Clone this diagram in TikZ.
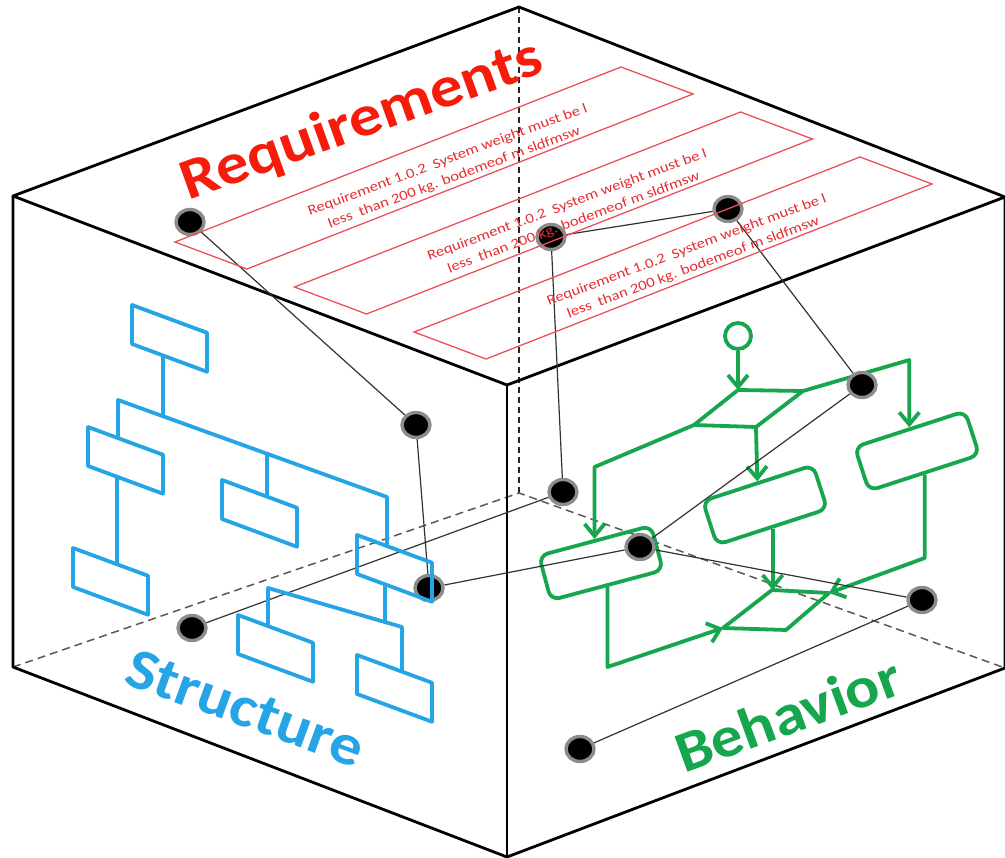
\documentclass[tikz,border=0pt]{standalone}
\usepackage{fontspec}
\setmainfont{Carlito}
\usetikzlibrary{arrows.meta,shapes.geometric,calc}
\definecolor{reqred}{RGB}{245,28,12}
\definecolor{boxred}{RGB}{238,80,90}
\definecolor{txtred}{RGB}{230,45,50}
\definecolor{strblue}{RGB}{38,165,230}
\definecolor{behgreen}{RGB}{22,166,78}
\newcommand\reqlines{\scalebox{1.19}[1]{\begin{tabular}{@{}c@{}}Requirement 1.0.2\ \ System weight must be l\\ less\ \ than 200 kg. bodemeof m sldfmsw\end{tabular}}}
\tikzset{
 cubeedge/.style={line width=2.8pt, line cap=round, line join=round},
 hiddenv/.style={line width=1.5pt, black!85, dash pattern=on 6pt off 4pt},
 hiddenb/.style={line width=1.5pt, black!65, dash pattern=on 8pt off 5pt},
 linkline/.style={line width=1.2pt, black!80},
 blackdot/.style={ellipse, fill=black, draw=black!45, line width=3.4pt, minimum width=28pt, minimum height=25pt, inner sep=0pt},
 reqbox/.style={draw=boxred, line width=1.3pt},
 reqtext/.style={text=txtred, font=\fontsize{14}{18.7}\selectfont, rotate=20.5, inner sep=0pt},
 bigtitle/.style={font=\bfseries\fontsize{58}{64}\selectfont, inner sep=0pt, anchor=base west},
 sline/.style={draw=strblue, line width=3.8pt, line join=round},
 gline/.style={draw=behgreen, line width=3.8pt, line join=round},
 garrow/.style={gline, -{Straight Barb[length=12pt,width=20pt]}},
 gbox/.style={draw=behgreen, line width=3.8pt, rounded corners=9pt, minimum width=116pt, minimum height=46pt, inner sep=0pt},
 ginit/.style={circle, draw=behgreen, line width=3.8pt, minimum size=26pt, inner sep=0pt},
}
\begin{document}
\begin{tikzpicture}[x=1pt,y=-1pt]
\useasboundingbox (0,0) rectangle (1005,858);
\fill[white] (0,0) rectangle (1005,858);
% cube corners
\coordinate (T) at (519,7);
\coordinate (L) at (13,196);
\coordinate (F) at (507,385);
\coordinate (R) at (1005,197);
\coordinate (LB) at (13,667);
\coordinate (B) at (507,857);
\coordinate (RB) at (1005,668);
\coordinate (H) at (519,493);
% hidden edges
\draw[hiddenv] (T) -- (H);
\draw[hiddenb] (LB) -- (H) -- (RB);
% visible edges
\draw[cubeedge] (L) -- (T) -- (R) -- (F) -- cycle;
\draw[cubeedge] (L) -- (LB) -- (B) -- (RB) -- (R);
\draw[cubeedge, line width=2.2pt] (F) -- (B);

% ---------- Behavior (green) ----------
\node[ginit] (g0) at (738,336) {};
\coordinate (dTL) at (738,390);
\coordinate (dTR) at (803,391);
\coordinate (dBR) at (756,427);
\coordinate (dBL) at (694,425);
\draw[gline] (dTL) -- (dTR) -- (dBR) -- (dBL) -- cycle;
\node[gbox, rotate=15] (gb1) at (601,563) {};
\node[gbox, rotate=18] (gb2) at (765,505) {};
\node[gbox, rotate=18] (gb3) at (917,451) {};
\coordinate (mTL) at (772,590);
\coordinate (mTR) at (829,593);
\coordinate (mBR) at (786,630);
\coordinate (mBL) at (723,628);
\draw[gline] (mTL) -- (mTR) -- (mBR) -- (mBL) -- cycle;
\draw[garrow] (g0.south) -- (dTL);
\draw[garrow] (dBL) -- (gb1.north |- 0,467) -- (gb1.north);
\draw[garrow] (dBR) -- (gb2.north);
\draw[garrow] (dTR) -- (gb3.north |- 0,360) -- (gb3.north);
\draw[garrow] (gb1.south) -- (gb1.south |- 0,667) -- (mBL);
\draw[garrow] (gb2.south) -- (gb2.south |- mTL);
\draw[garrow] (gb3.south) -- (gb3.south |- 0,558) -- (mTR);

% ---------- dots ----------
\node[blackdot] (d1) at (190,222) {};
\node[blackdot] (d2) at (551,237) {};
\node[blackdot] (d3) at (728,209) {};
\node[blackdot] (d4) at (416,425) {};
\node[blackdot] (d5) at (563,492) {};
\node[blackdot] (d6) at (640,547) {};
\node[blackdot] (d7) at (429,588) {};
\node[blackdot] (d8) at (192,628) {};
\node[blackdot] (d9) at (862,385) {};
\node[blackdot] (d10) at (922,600) {};
\node[blackdot] (d11) at (580,749) {};
\draw[linkline] (d1) -- (d4);
\draw[linkline] (d4) -- (d7);
\draw[linkline] (d2) -- (d3);
\draw[linkline] (d2) -- (d5);
\draw[linkline] (d3) -- (d9);
\draw[linkline] (d9) -- (d6);
\draw[linkline] (d8) -- (d5);
\draw[linkline] (d7) -- (d6);
\draw[linkline] (d6) -- (d10);
\draw[linkline] (d10) -- (d11);

% ---------- Requirements (red) ----------
\draw[reqbox] (175,242) -- ++(72,27) -- ++(446,-175) -- ++(-72,-27) -- cycle;
\draw[reqbox] (294.5,287) -- ++(72,27) -- ++(446,-175) -- ++(-72,-27) -- cycle;
\draw[reqbox] (414,332) -- ++(72,27) -- ++(446,-175) -- ++(-72,-27) -- cycle;
\node[reqtext] (r1) at (451,169) {\reqlines};
\node[reqtext] (r2) at (570.5,214) {\reqlines};
\node[reqtext] (r3) at (690,259) {\reqlines};
\node[bigtitle, text=reqred, rotate=19.8] (treq) at (188,201) {\scalebox{1.13}[1]{Requirements}};

% ---------- Structure (blue) ----------
\foreach \x/\y in {132/305, 88/427, 73/548, 222/480, 357/535, 238/615, 357/655}
  \draw[sline] (\x,\y) -- ++(75,27.75) -- ++(0,39) -- ++(-75,-27.75) -- cycle;
\draw[sline] (163,355.5) -- (163,416.2);
\draw[sline] (118,438.1) -- (118,400) -- (387,497) -- (387,546.1);
\draw[sline] (267,453.6) -- (267,496.7);
\draw[sline] (117,476.7) -- (117,564.3);
\draw[sline] (385,584.4) -- (385,621.9);
\draw[sline] (268,626.1) -- (268,588) -- (402,627) -- (402,671.7);
\node[bigtitle, text=strblue, rotate=-20] (tstr) at (122,683) {\scalebox{1.11}[1]{Structure}};
\node[bigtitle, text=behgreen, rotate=20.1] (tbeh) at (684,774) {\scalebox{1.1}[1]{Behavior}};
\end{tikzpicture}
\end{document}
